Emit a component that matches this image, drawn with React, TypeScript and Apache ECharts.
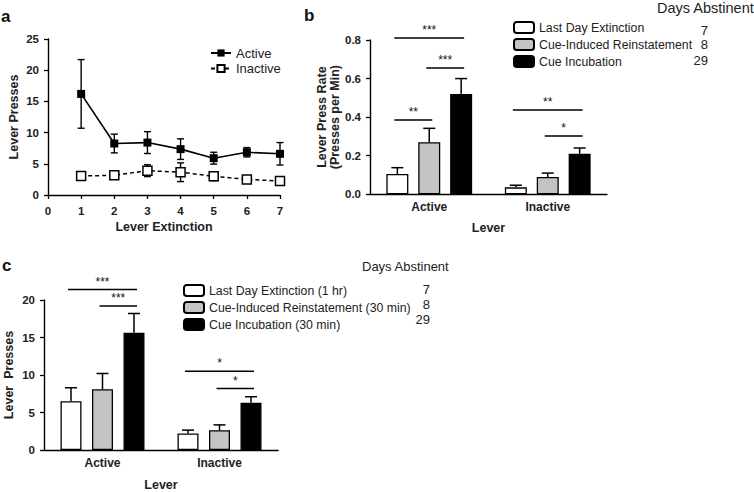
import React, { useEffect, useRef } from "react";
import * as echarts from "echarts";

// ---------- Panel a data ----------
const extinctionDays = [1, 2, 3, 4, 5, 6, 7];
const activeMean = [16.2, 8.25, 8.4, 7.35, 5.9, 6.85, 6.6];
const activeSem = [5.5, 1.5, 1.75, 1.65, 0.95, 0.75, 1.8];
const inactiveMean = [3.05, 3.15, 3.9, 3.65, 3.0, 2.5, 2.25];
const inactiveSem = [0.55, 0.35, 0.95, 1.5, 0.7, 0.25, 0.2];
const lineNames = ["Active", "Inactive"];

// ---------- Panels b & c data ----------
const leverCategories = ["Active", "Inactive"];
const conditionNamesB = ["Last Day Extinction", "Cue-Induced Reinstatement", "Cue Incubation"];
const conditionNamesC = [
  "Last Day Extinction (1 hr)",
  "Cue-Induced Reinstatement (30 min)",
  "Cue Incubation (30 min)",
];
const daysAbstinent = [7, 8, 29];

// rate (b): per condition, [Active, Inactive]
const rateMean = [
  [0.105, 0.036],
  [0.27, 0.09],
  [0.52, 0.21],
];
const rateSem = [
  [0.033, 0.011],
  [0.072, 0.02],
  [0.08, 0.03],
];
// presses (c)
const pressMean = [
  [6.5, 2.2],
  [8.1, 2.65],
  [15.65, 6.3],
];
const pressSem = [
  [1.8, 0.45],
  [2.1, 0.7],
  [2.55, 0.8],
];

// significance brackets: [leverIndex, fromCondition, toCondition, yValue]
const sigB = [
  [0, 0, 2, 0.81],
  [0, 1, 2, 0.655],
  [0, 0, 1, 0.385],
  [1, 0, 2, 0.437],
  [1, 1, 2, 0.302],
];
const sigBLabels = ["***", "***", "**", "**", "*"];
const sigC = [
  [0, 0, 2, 21.4],
  [0, 1, 2, 19.2],
  [1, 0, 2, 10.5],
  [1, 1, 2, 8.2],
];
const sigCLabels = ["***", "***", "*", "*"];

const FONT = "Liberation Sans, Arial, Helvetica, sans-serif";
const barFills = ["#ffffff", "#c4c4c4", "#000000"];

const BW_B = 22;
const GAP_B = 0.45;
const BW_C = 21;
const GAP_C = 0.5;

function offsetOf(k: number, bw: number, gap: number) {
  return (k - 1) * bw * (1 + gap);
}

function barErr(k: number, bw: number, gap: number, capHalf: number) {
  return (params: any, api: any) => {
    const c = api.value(0);
    const m = api.value(1);
    const e = api.value(2);
    const p0 = api.coord([c, m]);
    const p1 = api.coord([c, m + e]);
    const x = p0[0] + offsetOf(k, bw, gap);
    return {
      type: "group",
      children: [
        { type: "line", shape: { x1: x, y1: p0[1], x2: x, y2: p1[1] }, style: { stroke: "#000", lineWidth: 1.5 } },
        {
          type: "line",
          shape: { x1: x - capHalf, y1: p1[1], x2: x + capHalf, y2: p1[1] },
          style: { stroke: "#000", lineWidth: 1.5 },
        },
      ],
    };
  };
}

function sigRender(labels: string[], bw: number, gap: number) {
  return (params: any, api: any) => {
    const lever = api.value(0);
    const from = api.value(1);
    const to = api.value(2);
    const y = api.value(3);
    const p = api.coord([lever, y]);
    const x1 = p[0] + offsetOf(from, bw, gap) - 3;
    const x2 = p[0] + offsetOf(to, bw, gap) + 3;
    return {
      type: "group",
      children: [
        { type: "line", shape: { x1, y1: p[1], x2, y2: p[1] }, style: { stroke: "#000", lineWidth: 1.6 } },
        {
          type: "text",
          style: {
            x: (x1 + x2) / 2,
            y: p[1] - 2,
            text: labels[params.dataIndex],
            align: "center",
            verticalAlign: "bottom",
            fontSize: 12,
            fontFamily: FONT,
            fill: "#111",
          },
        },
      ],
    };
  };
}

function lineErr(capHalf: number) {
  return (params: any, api: any) => {
    const d = api.value(0);
    const m = api.value(1);
    const e = api.value(2);
    const lo = api.coord([d, m - e]);
    const hi = api.coord([d, m + e]);
    const x = lo[0];
    return {
      type: "group",
      children: [
        { type: "line", shape: { x1: x, y1: lo[1], x2: x, y2: hi[1] }, style: { stroke: "#000", lineWidth: 1.4 } },
        { type: "line", shape: { x1: x - capHalf, y1: hi[1], x2: x + capHalf, y2: hi[1] }, style: { stroke: "#000", lineWidth: 1.4 } },
        { type: "line", shape: { x1: x - capHalf, y1: lo[1], x2: x + capHalf, y2: lo[1] }, style: { stroke: "#000", lineWidth: 1.4 } },
      ],
    };
  };
}

const axisLine = { show: true, lineStyle: { color: "#000", width: 1.4 } };
const tickLabel = { color: "#222", fontSize: 11.5, fontWeight: "bold" as const, fontFamily: FONT };
const nameStyle = { color: "#222", fontSize: 12.5, fontWeight: "bold" as const, fontFamily: FONT };

export default function App() {
  const ref = useRef<HTMLDivElement>(null);
  useEffect(() => {
    if (!ref.current) return;
    const chart = echarts.init(ref.current, undefined, { renderer: "svg" });

    const series: any[] = [];
    // Panel a
    series.push({
      name: lineNames[0],
      type: "line",
      xAxisIndex: 0,
      yAxisIndex: 0,
      data: extinctionDays.map((d, i) => [d, activeMean[i]]),
      symbol: "rect",
      symbolSize: 8,
      itemStyle: { color: "#000" },
      lineStyle: { color: "#000", width: 1.6 },
      z: 5,
    });
    series.push({
      name: lineNames[1],
      type: "line",
      xAxisIndex: 0,
      yAxisIndex: 0,
      data: extinctionDays.map((d, i) => [d, inactiveMean[i]]),
      symbol: "rect",
      symbolSize: 9,
      itemStyle: { color: "#fff", borderColor: "#000", borderWidth: 1.5 },
      lineStyle: { color: "#000", width: 1.5, type: [4, 3] },
      z: 5,
    });
    series.push({
      type: "custom",
      xAxisIndex: 0,
      yAxisIndex: 0,
      data: extinctionDays.map((d, i) => [d, activeMean[i], activeSem[i]]),
      renderItem: lineErr(3.5),
      z: 3,
    });
    series.push({
      type: "custom",
      xAxisIndex: 0,
      yAxisIndex: 0,
      data: extinctionDays.map((d, i) => [d, inactiveMean[i], inactiveSem[i]]),
      renderItem: lineErr(3.5),
      z: 3,
    });

    // Panel b
    conditionNamesB.forEach((n, k) => {
      series.push({
        name: n,
        type: "bar",
        xAxisIndex: 1,
        yAxisIndex: 1,
        data: rateMean[k],
        barWidth: BW_B,
        barGap: GAP_B * 100 + "%",
        itemStyle: { color: barFills[k], borderColor: "#000", borderWidth: 1.3 },
        z: 2,
      });
    });
    conditionNamesB.forEach((n, k) => {
      series.push({
        type: "custom",
        xAxisIndex: 1,
        yAxisIndex: 1,
        data: leverCategories.map((c, j) => [j, rateMean[k][j], rateSem[k][j]]),
        renderItem: barErr(k, BW_B, GAP_B, 6),
        z: 3,
      });
    });
    series.push({
      type: "custom",
      xAxisIndex: 1,
      yAxisIndex: 1,
      data: sigB,
      renderItem: sigRender(sigBLabels, BW_B, GAP_B),
      clip: false,
      z: 4,
    });

    // Panel c
    conditionNamesC.forEach((n, k) => {
      series.push({
        name: n,
        type: "bar",
        xAxisIndex: 2,
        yAxisIndex: 2,
        data: pressMean[k],
        barWidth: BW_C,
        barGap: GAP_C * 100 + "%",
        itemStyle: { color: barFills[k], borderColor: "#000", borderWidth: 1.3 },
        z: 2,
      });
    });
    conditionNamesC.forEach((n, k) => {
      series.push({
        type: "custom",
        xAxisIndex: 2,
        yAxisIndex: 2,
        data: leverCategories.map((c, j) => [j, pressMean[k][j], pressSem[k][j]]),
        renderItem: barErr(k, BW_C, GAP_C, 6),
        z: 3,
      });
    });
    series.push({
      type: "custom",
      xAxisIndex: 2,
      yAxisIndex: 2,
      data: sigC,
      renderItem: sigRender(sigCLabels, BW_C, GAP_C),
      clip: false,
      z: 4,
    });

    const legendText = { color: "#222", fontSize: 12.3, fontFamily: FONT };

    chart.setOption({
      animation: false,
      backgroundColor: "#fff",
      textStyle: { fontFamily: FONT },
      grid: [
        { left: 48, top: 39, width: 232, height: 156 },
        { left: 370, top: 40, width: 237, height: 154.3 },
        { left: 44, top: 300, width: 234, height: 153 },
      ],
      xAxis: [
        {
          gridIndex: 0,
          type: "value",
          min: 0,
          max: 7,
          interval: 1,
          axisLine,
          axisTick: { show: true, length: 4, lineStyle: { color: "#000", width: 1.3 } },
          axisLabel: { ...tickLabel, margin: 10 },
          splitLine: { show: false },
          name: "Lever Extinction",
          nameLocation: "middle",
          nameGap: 25,
          nameTextStyle: nameStyle,
        },
        {
          gridIndex: 1,
          type: "category",
          data: leverCategories,
          axisLine,
          axisTick: { show: false },
          axisLabel: { ...tickLabel, fontSize: 12, margin: 7 },
          name: "Lever",
          nameLocation: "middle",
          nameGap: 27,
          nameTextStyle: nameStyle,
        },
        {
          gridIndex: 2,
          type: "category",
          data: leverCategories,
          axisLine,
          axisTick: { show: false },
          axisLabel: { ...tickLabel, fontSize: 12, margin: 7 },
          name: "Lever",
          nameLocation: "middle",
          nameGap: 28,
          nameTextStyle: nameStyle,
        },
      ],
      yAxis: [
        {
          gridIndex: 0,
          type: "value",
          min: 0,
          max: 25,
          interval: 5,
          axisLine,
          axisTick: { show: true, length: 4, lineStyle: { color: "#000", width: 1.3 } },
          axisLabel: { ...tickLabel, margin: 9 },
          splitLine: { show: false },
          name: "Lever Presses",
          nameLocation: "middle",
          nameGap: 28,
          nameTextStyle: nameStyle,
        },
        {
          gridIndex: 1,
          type: "value",
          min: 0,
          max: 0.8,
          interval: 0.2,
          axisLine,
          axisTick: { show: true, length: 4, lineStyle: { color: "#000", width: 1.3 } },
          axisLabel: { ...tickLabel, margin: 9, formatter: (v: number) => v.toFixed(1) },
          splitLine: { show: false },
          name: "Lever Press Rate\n(Presses per Min)",
          nameLocation: "middle",
          nameGap: 25,
          nameTextStyle: { ...nameStyle, lineHeight: 13 },
        },
        {
          gridIndex: 2,
          type: "value",
          min: 0,
          max: 20,
          interval: 5,
          axisLine,
          axisTick: { show: true, length: 4, lineStyle: { color: "#000", width: 1.3 } },
          axisLabel: { ...tickLabel, margin: 9 },
          splitLine: { show: false },
          name: "Lever  Presses",
          nameLocation: "middle",
          nameGap: 29,
          nameTextStyle: nameStyle,
        },
      ],
      legend: [
        {
          data: lineNames,
          orient: "vertical",
          left: 210,
          top: 46.5,
          padding: 0,
          itemWidth: 20,
          itemHeight: 9,
          itemGap: 2.5,
          selectedMode: false,
          textStyle: { ...legendText, fontSize: 13 },
        },
        {
          data: conditionNamesB,
          orient: "vertical",
          left: 513,
          top: 21,
          padding: 0,
          itemWidth: 20,
          itemHeight: 11,
          itemGap: 4,
          icon: "roundRect",
          selectedMode: false,
          textStyle: legendText,
        },
        {
          data: conditionNamesC,
          orient: "vertical",
          left: 183,
          top: 284,
          padding: 0,
          itemWidth: 20,
          itemHeight: 11,
          itemGap: 4,
          icon: "roundRect",
          selectedMode: false,
          textStyle: legendText,
        },
      ],
      graphic: [
        { type: "text", left: 1, top: 8, style: { text: "a", fontSize: 17, fontWeight: "bold", fontFamily: FONT, fill: "#111" } },
        { type: "text", left: 304, top: 7, style: { text: "b", fontSize: 17, fontWeight: "bold", fontFamily: FONT, fill: "#111" } },
        { type: "text", left: 2, top: 257, style: { text: "c", fontSize: 17, fontWeight: "bold", fontFamily: FONT, fill: "#111" } },
        {
          type: "text",
          x: 657,
          y: 8,
          style: { text: "Days Abstinent", fontSize: 14.5, fontFamily: FONT, fill: "#222", verticalAlign: "middle" },
        },
        ...daysAbstinent.map((d, i) => ({
          type: "text",
          x: 708,
          y: [30, 44, 60][i],
          style: { text: String(d), fontSize: 13, fontFamily: FONT, fill: "#222", align: "right", verticalAlign: "middle" },
        })),
        {
          type: "text",
          x: 362,
          y: 266,
          style: { text: "Days Abstinent", fontSize: 13, fontFamily: FONT, fill: "#222", verticalAlign: "middle" },
        },
        ...daysAbstinent.map((d, i) => ({
          type: "text",
          x: 430,
          y: [289, 304, 319][i],
          style: { text: String(d), fontSize: 13, fontFamily: FONT, fill: "#222", align: "right", verticalAlign: "middle" },
        })),
      ],
      series,
    });
    return () => chart.dispose();
  }, []);
  return (
    <div
      ref={ref}
      style={{ position: "fixed", left: 0, top: 0, width: 754, height: 492, background: "#fff" }}
    />
  );
}
